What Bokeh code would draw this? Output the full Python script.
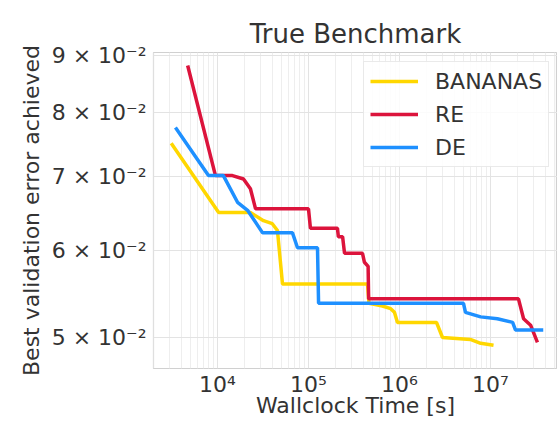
from bokeh.plotting import figure
from bokeh.models import Range1d, FixedTicker
from bokeh.embed import file_html
from bokeh.resources import INLINE

# ---- data ----
bananas_t = [3100, 10300, 23000, 32000, 40000, 45600, 51800, 445000, 462000,
             650000, 800000, 880000, 950000, 2.55e6, 2.97e6, 6.0e6, 7.8e6, 1.08e7]
bananas_v = [0.0750, 0.0649, 0.0649, 0.0638, 0.0634, 0.0625, 0.0559, 0.0559, 0.0537,
             0.0534, 0.0531, 0.0527, 0.0516, 0.0516, 0.0500, 0.0498, 0.0494, 0.0492]

re_t = [4700, 9500, 14600, 19300, 23000, 26200, 100000, 105000, 208000, 213000,
        237000, 249000, 392000, 412000, 452000, 458000, 2.03e7, 2.31e7, 2.76e7, 3.28e7]
re_v = [0.0882, 0.0701, 0.0701, 0.0696, 0.0682, 0.0654, 0.0654, 0.0628, 0.0628, 0.0617,
        0.0617, 0.0596, 0.0596, 0.0585, 0.0580, 0.0542, 0.0542, 0.0520, 0.0513, 0.0495]

de_t = [3450, 7960, 11600, 16600, 21400, 31300, 66700, 75700, 125600, 129000,
        5.05e6, 5.31e6, 7.8e6, 1.19e7, 1.75e7, 1.88e7, 3.8e7]
de_v = [0.0775, 0.0701, 0.0701, 0.0663, 0.0652, 0.0622, 0.0622, 0.0603, 0.0603, 0.0537,
        0.0537, 0.0527, 0.0522, 0.0520, 0.0516, 0.0508, 0.0508]

x_ticks = [1e4, 1e5, 1e6, 1e7]
x_tick_labels = ["10\u2074", "10\u2075", "10\u2076", "10\u2077"]
y_ticks = [0.05, 0.06, 0.07, 0.08, 0.09]
y_tick_labels = ["5 \u00d7 10\u207b\u00b2", "6 \u00d7 10\u207b\u00b2", "7 \u00d7 10\u207b\u00b2",
                 "8 \u00d7 10\u207b\u00b2", "9 \u00d7 10\u207b\u00b2"]

series = [("BANANAS", bananas_t, bananas_v, "#FFD700"),
          ("RE", re_t, re_v, "#DC143C"),
          ("DE", de_t, de_v, "#1E90FF")]

FONT = "DejaVu Sans"
TXT = "#333333"

p = figure(width=557, height=421, x_axis_type="log", y_axis_type="log",
           x_range=Range1d(1980, 5.45e7), y_range=Range1d(0.04687, 0.09062),
           output_backend="svg", toolbar_location=None, title="True Benchmark",
           min_border_left=153, min_border_right=0, min_border_top=52, min_border_bottom=53)

p.title.align = "center"
p.title.text_font = FONT
p.title.text_font_size = "26px"
p.title.text_font_style = "normal"
p.title.text_color = TXT
p.title.standoff = 7

for name, t, v, c in series:
    p.line(t, v, line_color=c, line_width=3.5, legend_label=name)

minor = [m * 10 ** e for e in range(3, 8) for m in range(2, 10)]
p.xaxis.ticker = FixedTicker(ticks=x_ticks, minor_ticks=minor)
p.yaxis.ticker = FixedTicker(ticks=y_ticks, minor_ticks=[])
p.xaxis.major_label_overrides = dict(zip(x_ticks, x_tick_labels))
p.yaxis.major_label_overrides = dict(zip(y_ticks, y_tick_labels))

for ax in (p.xaxis, p.yaxis):
    ax.axis_line_color = None
    ax.major_tick_line_color = None
    ax.minor_tick_line_color = None
    ax.major_tick_out = 0
    ax.major_tick_in = 0
    ax.minor_tick_out = 0
    ax.minor_tick_in = 0
    ax.major_label_text_font = FONT
    ax.major_label_text_font_size = "22px"
    ax.major_label_text_color = TXT
    ax.axis_label_text_font = FONT
    ax.axis_label_text_font_size = "22px"
    ax.axis_label_text_font_style = "normal"
    ax.axis_label_text_color = TXT

p.xaxis.major_label_standoff = 3
p.yaxis.major_label_standoff = 7
p.xaxis.axis_label = "Wallclock Time [s]"
p.xaxis.axis_label_standoff = -7
p.yaxis.axis_label = "Best validation error achieved"
p.yaxis.axis_label_standoff = 5

p.xgrid.grid_line_color = "#e3e3e3"
p.xgrid.minor_grid_line_color = "#eeeeee"
p.ygrid.grid_line_color = "#e3e3e3"
p.outline_line_color = "#d0d0d0"
p.outline_line_width = 1.2

lg = p.legend[0]
lg.location = (210, 201)
lg.label_text_font = FONT
lg.label_text_font_size = "22px"
lg.label_text_color = TXT
lg.glyph_width = 48
lg.glyph_height = 26
lg.label_height = 26
lg.label_standoff = 17
lg.spacing = 7
lg.padding = 6
lg.margin = 0
lg.border_line_color = "#d6d6d6"
lg.background_fill_alpha = 0.85

open("out.html", "w").write(file_html(p, INLINE))
